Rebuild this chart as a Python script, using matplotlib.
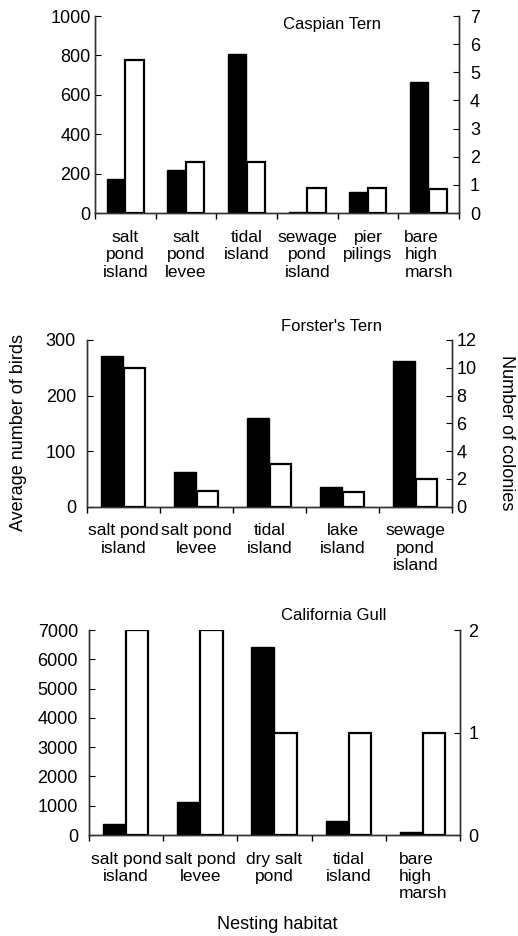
import matplotlib
matplotlib.use("Agg")
import matplotlib.pyplot as plt
import numpy as np

plt.rcParams['font.family'] = ['Liberation Sans', 'DejaVu Sans']

# Caspian Tern
caspian_cats = ["salt\npond\nisland", "salt\npond\nlevee", "tidal\nisland",
                "sewage\npond\nisland", "pier\npilings", "bare\nhigh\nmarsh"]
caspian_birds = [175, 217, 805, 3, 105, 666]
caspian_colonies = [5.43, 1.83, 1.83, 0.89, 0.9, 0.87]

# Forster's Tern
forster_cats = ["salt pond\nisland", "salt pond\nlevee", "tidal\nisland",
                "lake\nisland", "sewage\npond\nisland"]
forster_birds = [271, 62, 160, 35, 262]
forster_colonies = [10, 1.1, 3.1, 1.05, 2.0]

# California Gull
gull_cats = ["salt pond\nisland", "salt pond\nlevee", "dry salt\npond",
             "tidal\nisland", "bare\nhigh\nmarsh"]
gull_birds = [376, 1138, 6431, 489, 114]
gull_colonies = [2, 2, 1, 1, 1]

fig = plt.figure(figsize=(5.18, 9.36), dpi=100)

panels = [
    dict(rect=[0.1834, 0.7724, 0.7027, 0.2105], cats=caspian_cats, birds=caspian_birds,
         cols=caspian_colonies, title="Caspian Tern", ylim=1000, yticks=np.arange(0, 1001, 200),
         y2lim=7, y2ticks=np.arange(0, 8, 1), title_inside=True, lpad=3, rpad=8, tx=0.65),
    dict(rect=[0.168, 0.4587, 0.7046, 0.1781], cats=forster_cats, birds=forster_birds,
         cols=forster_colonies, title="Forster's Tern", ylim=300, yticks=np.arange(0, 301, 100),
         y2lim=12, y2ticks=np.arange(0, 13, 2), title_inside=False, lpad=8, rpad=3, tx=0.67),
    dict(rect=[0.1718, 0.1079, 0.7162, 0.219], cats=gull_cats, birds=gull_birds,
         cols=gull_colonies, title="California Gull", ylim=7000, yticks=np.arange(0, 7001, 1000),
         y2lim=2, y2ticks=np.arange(0, 3, 1), title_inside=False, lpad=8, rpad=6, tx=0.66),
]

w = 0.3
for p in panels:
    ax = fig.add_axes(p['rect'])
    ax2 = ax.twinx()
    n = len(p['cats'])
    x = np.arange(n) + 0.5
    ax.bar(x - w / 2 - 0.01, p['birds'], width=w, color='black', edgecolor='black', linewidth=1, zorder=3)
    ax2.bar(x + w / 2, p['cols'], width=w, color='white', edgecolor='black', linewidth=1.6, zorder=3)
    ax.set_xlim(0, n)
    ax.set_ylim(0, p['ylim'])
    ax2.set_ylim(0, p['y2lim'])
    ax.set_yticks(p['yticks'])
    ax2.set_yticks(p['y2ticks'])
    ax.set_xticks(x)
    labels = ax.set_xticklabels(p['cats'], fontsize=12.5, linespacing=1.2)
    for lab in labels:
        if lab.get_text().startswith("bare"):
            lab.set_multialignment('left')
    ax.set_xticks(np.arange(n + 1), minor=True)
    ax.tick_params(axis='x', which='major', length=0, pad=12)
    ax.tick_params(axis='x', which='minor', length=4, direction='out', width=1)
    ax.tick_params(axis='y', direction='in', length=4, labelsize=13, pad=p['lpad'])
    ax2.tick_params(axis='y', direction='in', length=4, labelsize=13, pad=p['rpad'])
    for a in (ax, ax2):
        a.spines['top'].set_visible(False)
        for s in a.spines.values():
            s.set_linewidth(1)
            s.set_color('#333333')
    if p['title_inside']:
        ax.text(p['tx'], 0.955, p['title'], transform=ax.transAxes, ha='center', va='center', fontsize=12)
    else:
        ax.text(p['tx'], 1.035, p['title'], transform=ax.transAxes, ha='center', va='bottom', fontsize=12)

fig.text(0.035, 0.538, "Average number of birds", rotation=90, ha='center', va='center', fontsize=13)
fig.text(0.978, 0.538, "Number of colonies", rotation=-90, ha='center', va='center', fontsize=13)
fig.text(0.535, 0.012, "Nesting habitat", ha='center', va='center', fontsize=13)

fig.savefig("out.png", dpi=100, facecolor='white')
